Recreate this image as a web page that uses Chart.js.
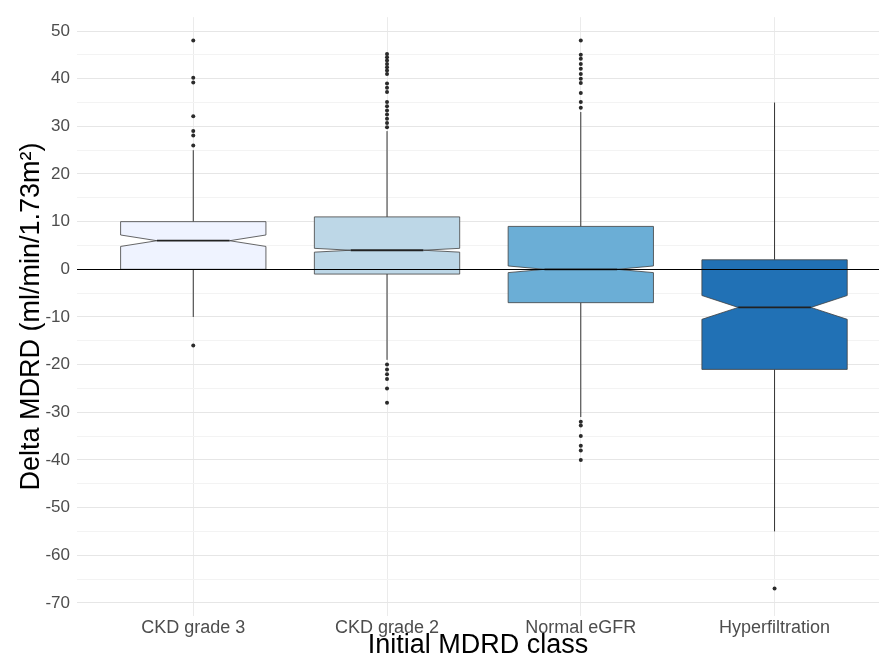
<!DOCTYPE html>
<html>
<head>
<meta charset="utf-8">
<script src="https://cdn.jsdelivr.net/npm/chart.js@4.4.1/dist/chart.umd.min.js"></script>
<style>
  html, body { margin: 0; padding: 0; background: #fff; }
</style>
</head>
<body>
<canvas id="mdrdChart" width="883" height="664"></canvas>
<script>
// categories and box statistics
const categories = ['CKD grade 3', 'CKD grade 2', 'Normal eGFR', 'Hyperfiltration'];
const q1 = [0, -1, -7, -21];
const median = [6, 4, 0, -8];
const q3 = [10, 11, 9, 2];
const notchLow = [4.8, 3.6, -0.7, -10.5];
const notchHigh = [7.2, 4.4, 0.7, -5.5];
const whiskerLow = [-10, -19, -31, -55];
const whiskerHigh = [25, 29, 33, 35];
const outliers = [
    [48, 40.2, 39.2, 32.1, 29, 28.1, 26, -16],
    [45.2, 44.5, 43.8, 43.1, 42.4, 41.7, 41, 39, 38.1, 37.2, 35.1, 34.2, 33.3, 32.5, 31.6, 30.7, 29.8,
     -20, -21, -22, -23, -25, -28],
    [48, 45, 44.2, 43.1, 42.1, 41, 40, 39.1, 37, 35.1, 33.9, -32, -32.8, -35, -37, -38, -40],
    [-67]
];
const yTickLabels = [50, 40, 30, 20, 10, 0, -10, -20, -30, -40, -50, -60, -70];
const boxColors = ['#EFF3FF', '#BDD7E7', '#6BAED6', '#2171B5'];

const boxHalfWidth = 0.375;
const fontFamily = "'Liberation Sans', Arial, sans-serif";

const outlierPoints = [];
outliers.forEach((vals, i) => {
    vals.forEach(v => outlierPoints.push({ x: i + 1, y: v }));
});

// draws whiskers, notched boxes, medians and the zero line using the chart scales
const boxPlugin = {
    id: 'notchedBoxes',
    beforeDatasetsDraw(chart) {
        const ctx = chart.ctx;
        const xs = chart.scales.x;
        const ys = chart.scales.y;
        ctx.save();
        categories.forEach((c, i) => {
            const cx = xs.getPixelForValue(i + 1);
            const left = xs.getPixelForValue(i + 1 - boxHalfWidth);
            const right = xs.getPixelForValue(i + 1 + boxHalfWidth);
            const inset = (right - left) / 4;

            // whiskers
            ctx.strokeStyle = '#333333';
            ctx.lineWidth = 1;
            ctx.beginPath();
            ctx.moveTo(cx, ys.getPixelForValue(q3[i]));
            ctx.lineTo(cx, ys.getPixelForValue(whiskerHigh[i]));
            ctx.moveTo(cx, ys.getPixelForValue(q1[i]));
            ctx.lineTo(cx, ys.getPixelForValue(whiskerLow[i]));
            ctx.stroke();

            // notched box
            const yQ1 = ys.getPixelForValue(q1[i]);
            const yQ3 = ys.getPixelForValue(q3[i]);
            const yMed = ys.getPixelForValue(median[i]);
            const yNl = ys.getPixelForValue(notchLow[i]);
            const yNh = ys.getPixelForValue(notchHigh[i]);
            ctx.beginPath();
            ctx.moveTo(left, yQ3);
            ctx.lineTo(right, yQ3);
            ctx.lineTo(right, yNh);
            ctx.lineTo(right - inset, yMed);
            ctx.lineTo(right, yNl);
            ctx.lineTo(right, yQ1);
            ctx.lineTo(left, yQ1);
            ctx.lineTo(left, yNl);
            ctx.lineTo(left + inset, yMed);
            ctx.lineTo(left, yNh);
            ctx.closePath();
            ctx.fillStyle = boxColors[i];
            ctx.fill();
            ctx.strokeStyle = '#404040';
            ctx.lineWidth = 0.8;
            ctx.stroke();

            // median
            ctx.strokeStyle = '#222222';
            ctx.lineWidth = 1.8;
            ctx.beginPath();
            ctx.moveTo(left + inset, yMed);
            ctx.lineTo(right - inset, yMed);
            ctx.stroke();
        });

        // zero reference line
        const y0 = Math.round(ys.getPixelForValue(0)) + 0.5;
        ctx.strokeStyle = '#000000';
        ctx.lineWidth = 1;
        ctx.beginPath();
        ctx.moveTo(chart.chartArea.left, y0);
        ctx.lineTo(chart.chartArea.right, y0);
        ctx.stroke();
        ctx.restore();
    }
};

const ctx = document.getElementById('mdrdChart').getContext('2d');
new Chart(ctx, {
    type: 'scatter',
    data: {
        datasets: [{
            label: 'Outliers',
            data: outlierPoints,
            backgroundColor: '#2b2b2b',
            borderColor: '#2b2b2b',
            pointRadius: 2,
            borderWidth: 0
        }]
    },
    options: {
        responsive: false,
        animation: false,
        layout: { padding: 0 },
        plugins: {
            legend: { display: false },
            tooltip: { enabled: false }
        },
        scales: {
            x: {
                type: 'linear',
                min: 0.4,
                max: 4.539,
                afterBuildTicks: (scale) => {
                    scale.ticks = categories.map((c, i) => ({ value: i + 1 }));
                },
                afterFit: (scale) => { scale.height = 48; },
                grid: { color: '#EBEBEB', lineWidth: 1, drawTicks: false },
                border: { display: false },
                ticks: {
                    padding: 1,
                    color: '#4D4D4D',
                    font: { family: fontFamily, size: 18 },
                    maxRotation: 0,
                    autoSkip: false,
                    callback: (v) => categories[v - 1]
                },
                title: {
                    display: true,
                    text: 'Initial MDRD class',
                    color: '#000',
                    font: { family: fontFamily, size: 27 },
                    padding: { top: 0, bottom: 2 }
                }
            },
            y: {
                type: 'linear',
                min: -72.75,
                max: 52.9,
                afterBuildTicks: (scale) => {
                    const t = [];
                    yTickLabels.forEach(v => {
                        t.push({ value: v });
                        if (v > -70) t.push({ value: v - 5 });
                    });
                    t.push({ value: 45 });
                    scale.ticks = t.sort((a, b) => a.value - b.value);
                },
                afterFit: (scale) => { scale.width = 77; },
                grid: {
                    drawTicks: false,
                    lineWidth: 1,
                    color: (c) => (c.tick && c.tick.value % 10 === 0) ? '#E6E6E6' : '#F3F3F3'
                },
                border: { display: false },
                ticks: {
                    padding: 7,
                    color: '#4D4D4D',
                    font: { family: fontFamily, size: 17 },
                    autoSkip: false,
                    callback: (v) => (v % 10 === 0 ? String(v) : '')
                },
                title: {
                    display: true,
                    text: 'Delta MDRD (ml/min/1.73m²)',
                    color: '#000',
                    font: { family: fontFamily, size: 27 },
                    padding: { top: 15, bottom: 0 }
                }
            }
        }
    },
    plugins: [boxPlugin]
});
</script>
</body>
</html>
